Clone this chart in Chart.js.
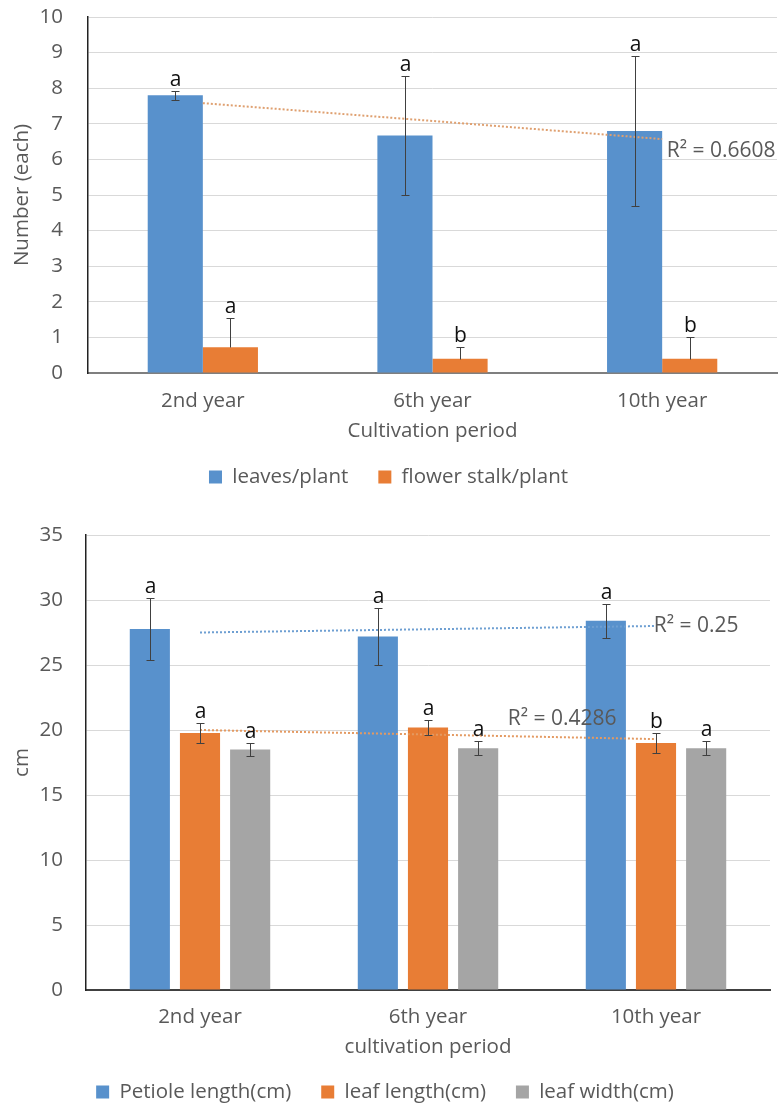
<!DOCTYPE html>
<html>
<head>
<meta charset="utf-8">
<script src="https://cdn.jsdelivr.net/npm/chart.js@4.4.0/dist/chart.umd.min.js"></script>
<style>
  html, body { margin: 0; padding: 0; background: #fff; overflow: hidden; }
  .wrap { position: absolute; left: 0; width: 779px; }
</style>
</head>
<body>
<div class="wrap" style="top:0"><canvas id="topChart" width="779" height="500"></canvas></div>
<div class="wrap" style="top:500px"><canvas id="bottomChart" width="779" height="613"></canvas></div>
<script>
// categories
const years = ['2nd year', '6th year', '10th year']

// top chart: counts per plant
const leavesPerPlant = [7.8, 6.67, 6.8]
const leavesErr = [0.12, 1.68, 2.1]
const leavesLetters = ['a', 'a', 'a']
const flowerStalk = [0.72, 0.4, 0.4]
const flowerErr = [0.82, 0.32, 0.62]
const flowerLetters = ['a', 'b', 'b']
const leavesTrend = [7.58, 7.08, 6.57]
const topTicks = [0, 1, 2, 3, 4, 5, 6, 7, 8, 9, 10]

// bottom chart: sizes in cm
const petiole = [27.77, 27.2, 28.4]
const petioleErr = [2.4, 2.2, 1.3]
const petioleLetters = ['a', 'a', 'a']
const leafLength = [19.77, 20.2, 19.0]
const leafLengthErr = [0.8, 0.6, 0.8]
const leafLengthLetters = ['a', 'a', 'b']
const leafWidth = [18.5, 18.6, 18.6]
const leafWidthErr = [0.5, 0.55, 0.55]
const leafWidthLetters = ['a', 'a', 'a']
const petioleTrend = [27.5, 27.75, 28.0]
const leafLengthTrend = [20.0, 19.65, 19.3]
const bottomTicks = [0, 5, 10, 15, 20, 25, 30, 35]

const BLUE = '#5891CC'
const ORANGE = '#E87D35'
const GRAY = '#A5A5A5'
const TEXT = '#595959'
const FS = 20.5

Chart.defaults.font.family = '"Open Sans", sans-serif'
Chart.defaults.color = TEXT

// error bars + significance letters
const errorBars = {
    id: 'errorBars',
    afterDatasetsDraw(chart) {
        const ctx = chart.ctx
        const y = chart.scales.y
        chart.data.datasets.forEach((ds, di) => {
            if (!ds.errors) return
            const meta = chart.getDatasetMeta(di)
            meta.data.forEach((bar, i) => {
                const v = ds.data[i]
                const e = ds.errors[i]
                const x = Math.round(bar.x) + 0.5
                const hi = Math.round(y.getPixelForValue(v + e)) + 0.5
                const lo = Math.round(y.getPixelForValue(ds.plusOnly ? v : v - e)) + 0.5
                ctx.save()
                ctx.strokeStyle = '#404040'
                ctx.lineWidth = 1
                ctx.beginPath()
                ctx.moveTo(x, hi); ctx.lineTo(x, lo)
                ctx.moveTo(x - 4, hi); ctx.lineTo(x + 4, hi)
                if (!ds.plusOnly) { ctx.moveTo(x - 4, lo); ctx.lineTo(x + 4, lo) }
                ctx.stroke()
                ctx.fillStyle = '#111'
                ctx.font = '21px "Open Sans", sans-serif'
                ctx.textAlign = 'center'
                ctx.textBaseline = 'alphabetic'
                ctx.fillText(ds.letters[i], x, hi - 6)
                ctx.restore()
            })
        })
    }
}

// R² captions of the trend lines
const rLabels = {
    id: 'rLabels',
    afterDatasetsDraw(chart, args, opts) {
        const ctx = chart.ctx
        const x = chart.scales.x
        const y = chart.scales.y
        ctx.save()
        ctx.fillStyle = TEXT
        ctx.font = '21px "Open Sans", sans-serif'
        ctx.textAlign = 'left'
        ctx.textBaseline = 'middle'
        opts.items.forEach(it => {
            ctx.fillText(it.text, x.getPixelForValue(it.index), y.getPixelForValue(it.value))
        })
        ctx.restore()
    }
}

function legendOpts() {
    return {
        position: 'bottom',
        labels: {
            boxWidth: 13, boxHeight: 13, padding: 30, color: TEXT,
            font: { size: FS },
            filter: item => item.text !== 'trend'
        }
    }
}

function trendSet(data, color) {
    return {
        type: 'line', label: 'trend', data: data, borderColor: color, borderWidth: 2,
        borderDash: [2, 2], pointRadius: 0, fill: false, order: 1
    }
}

// y axis: fixed width, no extra top margin from the tick padding
function fixY(width) {
    return s => {
        s.width = width
        s.paddingTop = 0
        s.paddingBottom = 0
    }
}

new Chart(document.getElementById('topChart'), {
    type: 'bar',
    data: {
        labels: years,
        datasets: [
            { label: 'leaves/plant', data: leavesPerPlant, backgroundColor: BLUE, errors: leavesErr, letters: leavesLetters, order: 2, barPercentage: 1, categoryPercentage: 0.48 },
            { label: 'flower stalk/plant', data: flowerStalk, backgroundColor: ORANGE, errors: flowerErr, letters: flowerLetters, plusOnly: true, order: 2, barPercentage: 1, categoryPercentage: 0.48 },
            trendSet(leavesTrend, '#DFA070')
        ]
    },
    options: {
        responsive: false,
        animation: false,
        layout: { padding: { top: 17, right: 2, bottom: 2.75, left: 0 } },
        plugins: {
            legend: legendOpts(),
            tooltip: { enabled: false },
            rLabels: { items: [{ text: 'R² = 0.6608', index: 2.02, value: 6.23 }] }
        },
        scales: {
            x: {
                grid: { display: false, drawTicks: false },
                border: { color: '#7F7F7F', width: 2 },
                ticks: { padding: 16, color: TEXT, font: { size: FS } },
                title: { display: true, text: 'Cultivation period', color: TEXT, font: { size: FS }, padding: { top: 0, bottom: -6.5 } },
                afterFit: s => { s.height = 63.75 }
            },
            y: {
                min: 0, max: 10,
                afterBuildTicks: s => { s.ticks = topTicks.map(v => ({ value: v })) },
                grid: { color: '#D9D9D9', drawTicks: false },
                border: { color: '#222', width: 1.5 },
                ticks: { padding: 25, color: TEXT, font: { size: FS } },
                title: { display: true, text: 'Number (each)', color: TEXT, font: { size: FS }, padding: { top: 10, bottom: 0 } },
                afterFit: fixY(88)
            }
        }
    },
    plugins: [errorBars, rLabels]
})

new Chart(document.getElementById('bottomChart'), {
    type: 'bar',
    data: {
        labels: years,
        datasets: [
            { label: 'Petiole length(cm)', data: petiole, backgroundColor: BLUE, errors: petioleErr, letters: petioleLetters, order: 2, barPercentage: 0.8, categoryPercentage: 0.66 },
            { label: 'leaf length(cm)', data: leafLength, backgroundColor: ORANGE, errors: leafLengthErr, letters: leafLengthLetters, order: 2, barPercentage: 0.8, categoryPercentage: 0.66 },
            { label: 'leaf width(cm)', data: leafWidth, backgroundColor: GRAY, errors: leafWidthErr, letters: leafWidthLetters, order: 2, barPercentage: 0.8, categoryPercentage: 0.66 },
            trendSet(petioleTrend, '#6E9FD2'),
            trendSet(leafLengthTrend, '#E49A62')
        ]
    },
    options: {
        responsive: false,
        animation: false,
        layout: { padding: { top: 35, right: 9, bottom: 0.75, left: 0 } },
        plugins: {
            legend: legendOpts(),
            tooltip: { enabled: false },
            rLabels: { items: [
                { text: 'R² = 0.25', index: 1.99, value: 28.0 },
                { text: 'R² = 0.4286', index: 1.35, value: 20.85 }
            ] }
        },
        scales: {
            x: {
                grid: { display: false, drawTicks: false },
                border: { color: '#404040', width: 2 },
                ticks: { padding: 15, color: TEXT, font: { size: FS } },
                title: { display: true, text: 'cultivation period', color: TEXT, font: { size: FS }, padding: { top: 0, bottom: -7.5 } },
                afterFit: s => { s.height = 61.75 }
            },
            y: {
                min: 0, max: 35,
                afterBuildTicks: s => { s.ticks = bottomTicks.map(v => ({ value: v })) },
                grid: { color: '#D9D9D9', drawTicks: false },
                border: { color: '#222', width: 1.5 },
                ticks: { padding: 23, color: TEXT, font: { size: FS } },
                title: { display: true, text: 'cm', color: TEXT, font: { size: FS }, padding: { top: 10, bottom: 0 } },
                afterFit: fixY(86)
            }
        }
    },
    plugins: [errorBars, rLabels]
})
</script>
</body>
</html>
